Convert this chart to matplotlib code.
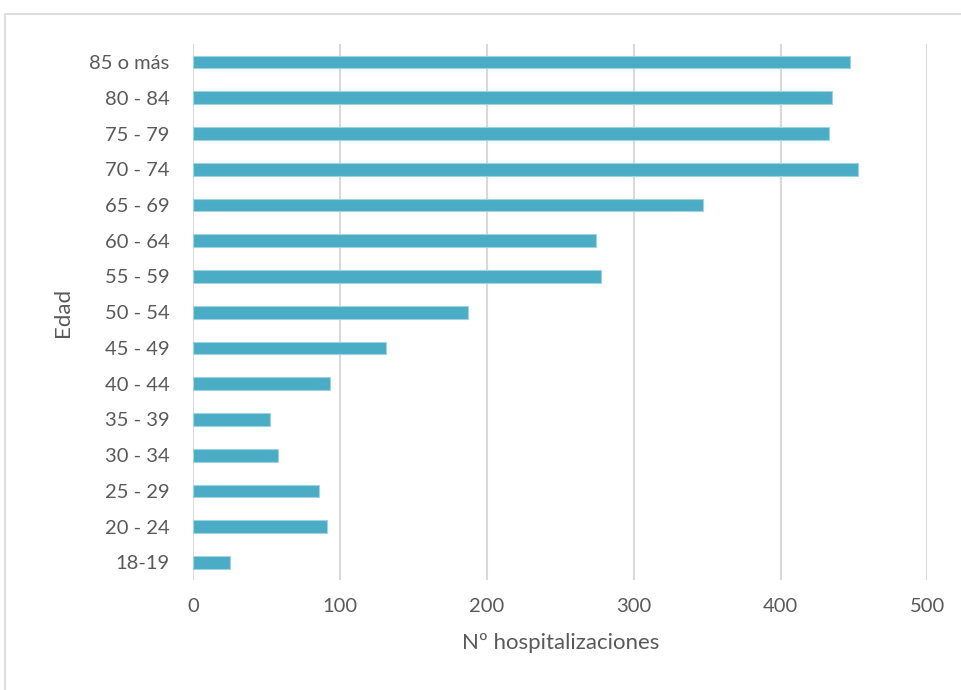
import matplotlib
matplotlib.use("Agg")
import matplotlib.pyplot as plt
from matplotlib.patches import Rectangle

categories = ["18-19", "20 - 24", "25 - 29", "30 - 34", "35 - 39", "40 - 44", "45 - 49",
              "50 - 54", "55 - 59", "60 - 64", "65 - 69", "70 - 74", "75 - 79", "80 - 84", "85 o más"]
values = [25, 91, 86, 58, 52, 93, 131, 187, 278, 274, 347, 453, 433, 435, 447]
xticks = [0, 100, 200, 300, 400, 500]

plt.rcParams['font.family'] = ['Lato', 'DejaVu Sans']
text_color = "#595959"

fig = plt.figure(figsize=(9.61, 6.9), dpi=100)
ax = fig.add_axes([0.201, 0.159, 0.764, 0.777])

ax.barh(range(len(categories)), values, height=0.36, color="#4BACC6",
        edgecolor="#9FD3E3", linewidth=0.8, zorder=3)
ax.set_xlim(0, 500)
ax.set_ylim(-0.5, len(categories) - 0.5)
ax.set_yticks(range(len(categories)))
ax.set_yticklabels(categories)
ax.set_xticks(xticks)
ax.set_xticklabels([str(t) for t in xticks])
ax.tick_params(axis='both', length=0, labelsize=14.5, colors=text_color)
ax.tick_params(axis='x', pad=13)
ax.tick_params(axis='y', pad=17)
ax.grid(axis='x', color="#D9D9D9", linewidth=1.5, zorder=0)
for s in ax.spines.values():
    s.set_visible(False)
ax.set_xlabel("Nº hospitalizaciones", fontsize=16, color=text_color, labelpad=13)
ax.set_ylabel("Edad", fontsize=16, color=text_color, labelpad=12)

fig.patches.append(Rectangle((5/961, -0.01), 1.0, 1 - 14/690 + 0.01, transform=fig.transFigure,
                             fill=False, edgecolor="#D9D9D9", linewidth=1.2))

fig.savefig("out.png", dpi=100)
